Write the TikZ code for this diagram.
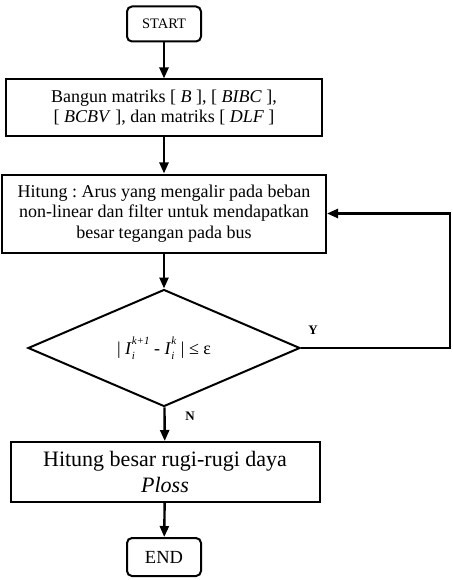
\documentclass[tikz,border=0pt]{standalone}
\usepackage{amsmath}
\usepackage{amssymb}
\usepackage{fontspec}
\setmainfont{Liberation Serif}
\usepackage{tikz}
\usetikzlibrary{shapes.geometric,arrows.meta}

\newcommand{\subsup}[2]{\rlap{\raisebox{-5pt}{\fontsize{11}{11}\selectfont\textit{#1}}}\raisebox{10pt}{\fontsize{11}{11}\selectfont\textit{#2}}}

\tikzset{
  termbox/.style={draw, line width=2pt, rounded corners=5pt, inner sep=0pt},
  procbox/.style={draw, line width=2pt, align=center, inner sep=0pt},
  flow/.style={line width=2.4pt, -{Triangle[length=11pt,width=9pt]}},
  tag/.style={font=\fontsize{13}{15}\selectfont\bfseries},
}

\begin{document}
\frenchspacing
\begin{tikzpicture}[x=1pt, y=-1pt]
    \useasboundingbox (0, 0) rectangle (452, 580);
    \node[termbox, minimum width=74pt, minimum height=35pt, font=\fontsize{14.5}{16}\selectfont] (start) at (164, 24) {START};
    \node[procbox, minimum width=316pt, minimum height=57pt, font=\fontsize{18}{20}\selectfont] (bangun) at (164, 108) {Bangun matriks [ \textit{B} ], [ \textit{BIBC} ],\\{}[ \textit{BCBV} ], dan matriks [ \textit{DLF} ]};
    \node[procbox, minimum width=324pt, minimum height=78pt, font=\fontsize{18}{20.5}\selectfont] (hitung) at (164, 213.5) {Hitung : Arus yang mengalir pada beban\\non-linear dan filter untuk mendapatkan\\besar tegangan pada bus};
    \node[diamond, draw, line width=2pt, aspect=2.32, inner sep=0pt, minimum width=272pt, minimum height=117pt, font=\fontsize{18}{20}\selectfont] (cek) at (164, 348) {| \textit{I}\subsup{i}{k+1} - \textit{I}\subsup{i}{k} | ≤ ε};
    \node[procbox, minimum width=309pt, minimum height=60pt, font=\fontsize{22}{26}\selectfont] (rugi) at (165, 472) {Hitung besar rugi-rugi daya\\\textit{Ploss}};
    \node[termbox, minimum width=74pt, minimum height=38pt, font=\fontsize{18.5}{20}\selectfont] (end) at (164, 557) {END};
    \node[tag] (ya) at (313, 330) {Y};
    \node[tag] (tidak) at (190, 416) {N};
    \coordinate (balik) at (450, 348);
    \draw[flow] (start) -- (bangun);
    \draw[flow] (bangun) -- (hitung);
    \draw[flow] (hitung) -- (cek);
    \draw[flow] (cek) -- (rugi);
    \draw[flow] (rugi) -- (end);
    \draw[flow] (cek.east) -- (balik) |- (hitung.east);
  \end{tikzpicture}
\end{document}
